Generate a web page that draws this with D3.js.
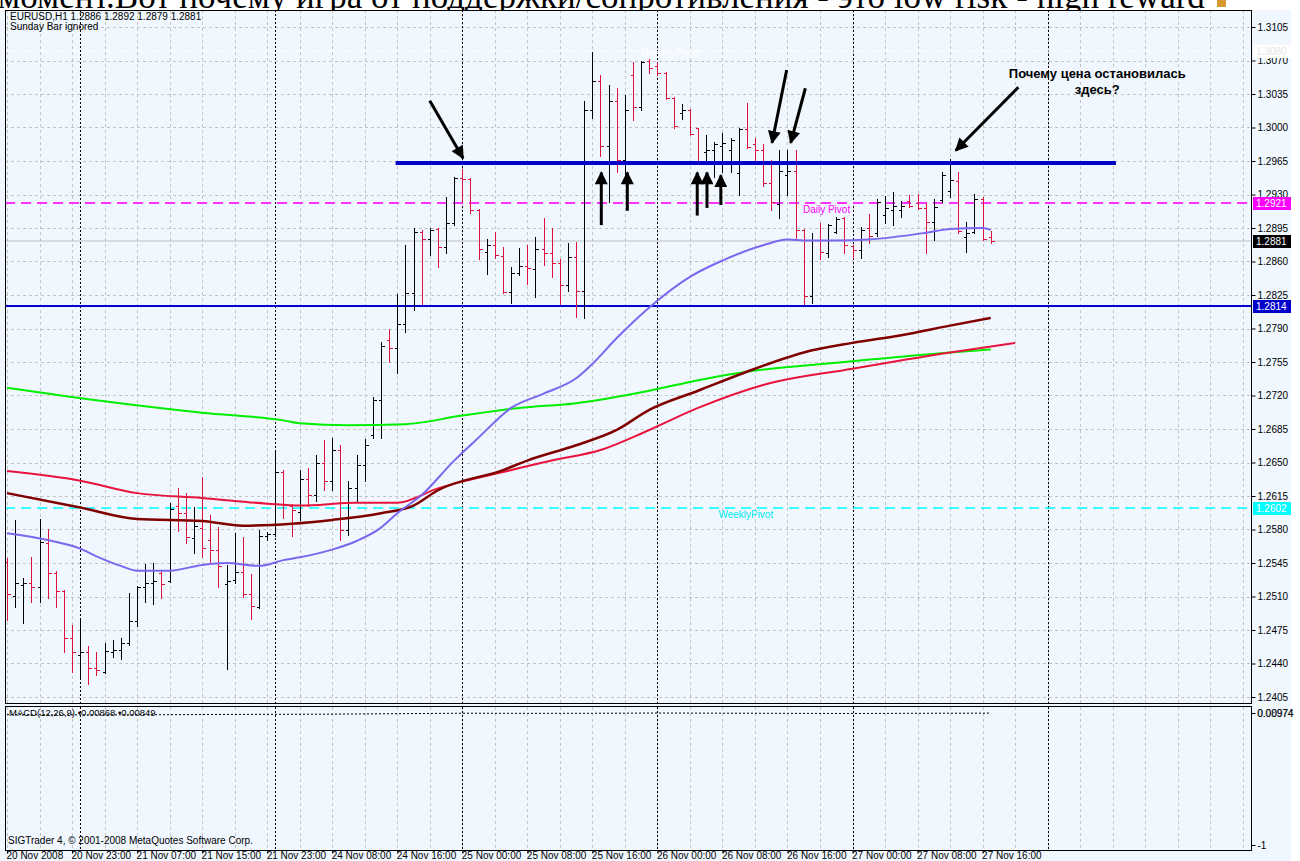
<!DOCTYPE html>
<meta charset="utf-8">
<style>
  body { margin: 0; background: #fff; }
  svg { display: block; font-family: "Liberation Sans", Arial, sans-serif; }
</style>
<svg width="1300" height="861"></svg>
<script src="https://cdn.jsdelivr.net/npm/d3@7/dist/d3.min.js"></script>
<script>
// EURUSD H1 bars (index 0 = first bar at the left edge)
var opens = [1.2546,1.2511,1.2522,1.2524,1.2520,1.2566,1.2535,1.2516,1.2467,1.2449,
  1.2452,1.2435,1.2431,1.2452,1.2454,1.2461,1.2484,1.2520,1.2524,1.2535,
  1.2526,1.2605,1.2597,1.2571,1.2582,1.2569,1.2559,1.2523,1.2527,1.2536,
  1.2513,1.2499,1.2573,1.2575,1.2640,1.2605,1.2598,1.2633,1.2616,1.2650,
  1.2631,1.2663,1.2579,1.2623,1.2647,1.2679,1.2715,1.2778,1.2770,1.2795,
  1.2827,1.2891,1.2884,1.2894,1.2875,1.2900,1.2947,1.2946,1.2914,1.2870,
  1.2877,1.2866,1.2828,1.2848,1.2855,1.2852,1.2873,1.2869,1.2858,1.2835,
  1.2865,1.2829,1.3018,1.3049,1.2981,1.3028,1.2966,1.3055,1.3021,1.3070,
  1.3064,1.3057,1.3031,1.3015,1.3018,1.2999,1.2974,1.2976,1.2981,1.2976,
  1.2952,1.2998,1.2983,1.2976,1.2942,1.2920,1.2950,1.2955,1.2893,1.2824,
  1.2882,1.2869,1.2891,1.2905,1.2876,1.2872,1.2895,1.2890,1.2909,1.2914,
  1.2914,1.2923,1.2921,1.2916,1.2901,1.2924,1.2934,1.2944,1.2886,1.2891,
  1.2925,1.2886];
var highs = [1.2550,1.2590,1.2529,1.2551,1.2591,1.2581,1.2537,1.2517,1.2480,1.2485,
  1.2458,1.2452,1.2461,1.2465,1.2467,1.2514,1.2521,1.2544,1.2545,1.2537,
  1.2608,1.2623,1.2618,1.2603,1.2635,1.2595,1.2583,1.2543,1.2576,1.2572,
  1.2534,1.2579,1.2577,1.2663,1.2642,1.2607,1.2642,1.2644,1.2658,1.2673,
  1.2676,1.2668,1.2631,1.2658,1.2675,1.2718,1.2776,1.2790,1.2826,1.2877,
  1.2895,1.2893,1.2895,1.2895,1.2927,1.2948,1.2957,1.2947,1.2915,1.2883,
  1.2891,1.2875,1.2854,1.2874,1.2877,1.2886,1.2905,1.2895,1.2863,1.2879,
  1.2880,1.3028,1.3079,1.3055,1.3044,1.3041,1.3034,1.3068,1.3070,1.3072,
  1.3068,1.3058,1.3032,1.3025,1.3019,1.3000,1.2992,1.2985,1.2994,1.2989,
  1.3000,1.3026,1.2989,1.2983,1.2966,1.2977,1.2976,1.2977,1.2894,1.2890,
  1.2900,1.2899,1.2907,1.2906,1.2877,1.2896,1.2910,1.2925,1.2928,1.2933,
  1.2923,1.2930,1.2931,1.2921,1.2925,1.2953,1.2967,1.2953,1.2901,1.2931,
  1.2927,1.2892];
var lows = [1.2485,1.2499,1.2482,1.2504,1.2504,1.2508,1.2499,1.2452,1.2431,1.2424,
  1.2419,1.2428,1.2430,1.2447,1.2445,1.2459,1.2479,1.2504,1.2502,1.2508,
  1.2525,1.2578,1.2566,1.2555,1.2551,1.2545,1.2520,1.2434,1.2524,1.2509,
  1.2487,1.2498,1.2569,1.2573,1.2592,1.2573,1.2590,1.2605,1.2610,1.2621,
  1.2621,1.2569,1.2574,1.2610,1.2631,1.2676,1.2676,1.2755,1.2743,1.2786,
  1.2809,1.2816,1.2867,1.2854,1.2869,1.2898,1.2922,1.2911,1.2863,1.2847,
  1.2864,1.2827,1.2817,1.2846,1.2837,1.2823,1.2856,1.2844,1.2816,1.2829,
  1.2802,1.2801,1.3010,1.2970,1.2922,1.2953,1.2950,1.3008,1.3018,1.3057,
  1.3055,1.3030,1.3000,1.3009,1.2992,1.2962,1.2963,1.2948,1.2954,1.2954,
  1.2929,1.2979,1.2963,1.2939,1.2914,1.2905,1.2930,1.2882,1.2816,1.2817,
  1.2863,1.2865,1.2890,1.2869,1.2864,1.2864,1.2879,1.2887,1.2900,1.2898,
  1.2907,1.2917,1.2915,1.2869,1.2882,1.2922,1.2927,1.2890,1.2870,1.2890,
  1.2882,1.2879];
var closes = [1.2513,1.2524,1.2524,1.2520,1.2567,1.2535,1.2516,1.2467,1.2452,1.2452,
  1.2435,1.2433,1.2453,1.2454,1.2461,1.2484,1.2520,1.2524,1.2526,1.2523,
  1.2601,1.2597,1.2572,1.2584,1.2561,1.2559,1.2542,1.2526,1.2536,1.2513,
  1.2500,1.2573,1.2575,1.2640,1.2606,1.2600,1.2633,1.2616,1.2650,1.2631,
  1.2663,1.2579,1.2623,1.2647,1.2668,1.2715,1.2772,1.2770,1.2795,1.2827,
  1.2891,1.2884,1.2893,1.2875,1.2900,1.2947,1.2946,1.2914,1.2873,1.2877,
  1.2867,1.2828,1.2848,1.2855,1.2853,1.2873,1.2869,1.2858,1.2835,1.2865,
  1.2829,1.3018,1.3049,1.2981,1.3028,1.2966,1.3018,1.3021,1.3068,1.3062,
  1.3057,1.3031,1.3002,1.3018,1.2993,1.2964,1.2976,1.2983,1.2984,1.2987,
  1.2998,1.2980,1.2976,1.2942,1.2922,1.2955,1.2955,1.2893,1.2824,1.2882,
  1.2870,1.2898,1.2904,1.2877,1.2872,1.2893,1.2887,1.2922,1.2916,1.2918,
  1.2918,1.2918,1.2916,1.2901,1.2917,1.2950,1.2945,1.2892,1.2890,1.2925,
  1.2884,1.2881];

// moving averages: bar index / value pairs
var maSlateIdx = [0,5,9,11,14,16,20,24,27,31,34,36,40,43,46,48,51,55,58,62,66,70,72,75,79,84,88,93,96,98,102,106,113,116,120,121];
var maSlate = [1.2576,1.2569,1.2560,1.2552,1.2542,1.2537,1.2537,1.2543,1.2545,1.2542,1.2548,1.2551,1.2559,1.2568,1.2582,1.2597,1.2616,1.2652,1.2676,1.2707,1.2722,1.2738,1.2753,1.2780,1.2812,1.2844,1.2861,1.2877,1.2883,1.2882,1.2882,1.2883,1.2890,1.2894,1.2895,1.2893];
var maGreenIdx = [0,11,24,34,36,42,49,56,63,70,79,85,92,103,116,121];
var maGreen = [1.2728,1.2715,1.2702,1.2694,1.2691,1.2689,1.2690,1.2699,1.2707,1.2712,1.2725,1.2736,1.2746,1.2755,1.2765,1.2768];
var maMaroonIdx = [0,9,16,24,29,35,40,46,50,53,61,64,70,75,79,85,92,98,104,110,116,121];
var maMaroon = [1.2618,1.2603,1.2591,1.2589,1.2584,1.2586,1.2590,1.2597,1.2605,1.2621,1.2642,1.2652,1.2668,1.2684,1.2705,1.2725,1.2748,1.2765,1.2775,1.2783,1.2793,1.2801];
var maCrimsonIdx = [0,9,16,24,32,36,43,48,53,61,67,73,79,85,93,104,116,124];
var maCrimson = [1.2641,1.2631,1.2618,1.2613,1.2607,1.2605,1.2608,1.2608,1.2623,1.2640,1.2652,1.2663,1.2684,1.2707,1.2731,1.2748,1.2765,1.2775];

// MACD(12,26,9) main line, sampled
var macdIdx = [0,8,16,24,32,40,48,56,64,72,80,88,96,104,112,121];
var macdVal = [-0.0030,-0.0045,-0.0040,-0.0020,-0.0005,0.0010,0.0045,0.0080,0.0070,0.0075,0.0095,0.0085,0.0070,0.0060,0.0075,0.0087];

var timeIdx = [0,8,16,24,32,40,48,56,64,72,80,88,96,104,112,120];
var timeLabels = ["20 Nov 2008","20 Nov 23:00","21 Nov 07:00","21 Nov 15:00","21 Nov 23:00",
  "24 Nov 08:00","24 Nov 16:00","25 Nov 00:00","25 Nov 08:00","25 Nov 16:00",
  "26 Nov 00:00","26 Nov 08:00","26 Nov 16:00","27 Nov 00:00","27 Nov 08:00","27 Nov 16:00"];
var daySeps = [9,33,56,80,104,128];
var priceTicks = [1.3105,1.3070,1.3035,1.3000,1.2965,1.2930,1.2895,1.2860,1.2825,1.2790,
  1.2755,1.2720,1.2685,1.2650,1.2615,1.2580,1.2545,1.2510,1.2475,1.2440,1.2405];

// horizontal levels
var levelNames = ["MonthlyPivot","Daily Pivot","Bid","Support","WeeklyPivot"];
var levelValues = [1.3080,1.2921,1.2881,1.2814,1.2602];
var resistance = 1.2963;
var resistanceFrom = 47.8, resistanceTo = 136.4;

// hand-drawn arrows: [fromIdx, fromPrice, toIdx, toPrice]
var arrows = [
  [52.0,1.3028,56.1,1.2968],
  [73.1,1.2898,73.1,1.2953],
  [76.3,1.2913,76.3,1.2953],
  [84.9,1.2908,84.9,1.2953],
  [86.1,1.2916,86.1,1.2953],
  [87.8,1.2919,87.8,1.2950],
  [95.9,1.3060,94.1,1.2984],
  [98.2,1.3041,96.4,1.2984],
  [124.4,1.3042,116.7,1.2976]
];

var svg = d3.select("svg");
var L = 5, R = 1251, T = 10, PB = 703, MT = 707, MB = 850;

var x = d3.scaleLinear().domain([0, 100]).range([7, 820]);
var y = d3.scaleLinear().domain([1.2405, 1.3105]).range([697, 27]);
var ym = d3.scaleLinear().domain([-1, 0.00974]).range([845, 713]);

// cropped forum text above the chart
svg.append("defs").append("clipPath").attr("id", "topclip")
  .append("rect").attr("x", 0).attr("y", 0).attr("width", 1300).attr("height", T);
svg.append("g").attr("clip-path", "url(#topclip)").append("text").attr("x", -2).attr("y", 8)
  .attr("font-family", "'Liberation Serif', 'Times New Roman', serif").attr("font-size", 35)
  .text("момент.Вот почему игра от поддержки/сопротивления - это low risk - high reward");
svg.append("rect").attr("x", 1217).attr("y", 0).attr("width", 9).attr("height", 7).attr("fill", "#d89a30");

// background
svg.append("rect").attr("x", 0).attr("y", T).attr("width", 1291).attr("height", 861 - T).attr("fill", "#f0f7ff");

// grid
var grid = svg.append("g").attr("stroke", "#c4c4c4").attr("stroke-dasharray", "3,3").attr("shape-rendering", "crispEdges");
grid.selectAll(".h").data(priceTicks).enter().append("line")
  .attr("x1", L).attr("x2", R).attr("y1", function(d){ return Math.round(y(d)) + 0.5; }).attr("y2", function(d){ return Math.round(y(d)) + 0.5; });
var gridIdx = d3.range(0, 154, 4);
[[T, PB], [MT, MB]].forEach(function(p){
  grid.selectAll(null).data(gridIdx).enter().append("line")
    .attr("x1", function(d){ return Math.round(x(d)) + 0.5; }).attr("x2", function(d){ return Math.round(x(d)) + 0.5; })
    .attr("y1", p[0]).attr("y2", p[1]);
});
var seps = svg.append("g").attr("stroke", "#000").attr("stroke-dasharray", "2,2").attr("shape-rendering", "crispEdges");
[[T, PB], [MT, MB]].forEach(function(p){
  seps.selectAll(null).data(daySeps).enter().append("line")
    .attr("x1", function(d){ return Math.round(x(d)) + 0.5; }).attr("x2", function(d){ return Math.round(x(d)) + 0.5; })
    .attr("y1", p[0]).attr("y2", p[1]);
});

// level lines
var lvlStroke = ["#ffffff","#ff33ff","#c0c0c0","#0000cc","#00ffff"];
var lvlWidth = [1, 2, 1, 2, 1.5];
var lvlDash = ["10,6","10,6",null,null,"10,6"];
svg.append("g").selectAll("line").data(levelValues).enter().append("line")
  .attr("x1", L).attr("x2", R)
  .attr("y1", function(d){ return Math.round(y(d)); }).attr("y2", function(d){ return Math.round(y(d)); })
  .attr("stroke", function(d, i){ return lvlStroke[i]; })
  .attr("stroke-width", function(d, i){ return lvlWidth[i]; })
  .attr("stroke-dasharray", function(d, i){ return lvlDash[i]; });
svg.append("text").attr("x", x(77.9)).attr("y", y(levelValues[0]) + 6).attr("font-size", 10).attr("fill", "#fff").text("MonthlyPivot");
svg.append("text").attr("x", x(97.9)).attr("y", y(levelValues[1]) + 10).attr("font-size", 10).attr("fill", "#ff00ff").text("Daily Pivot");
svg.append("text").attr("x", x(87.5)).attr("y", y(levelValues[4]) + 10).attr("font-size", 10).attr("fill", "#00e8f0").text("WeeklyPivot");

// bars
var idx = d3.range(opens.length);
var bars = svg.append("g").attr("shape-rendering", "crispEdges").selectAll("g").data(idx).enter().append("g")
  .attr("stroke", function(i){ return closes[i] >= opens[i] ? "#000" : "#dc143c"; })
  .attr("transform", function(i){ return "translate(" + (Math.round(x(i)) + 0.5) + ",0)"; });
bars.append("line").attr("y1", function(i){ return y(highs[i]); }).attr("y2", function(i){ return y(lows[i]) + 1; });
bars.append("line").attr("x1", -3).attr("x2", 0)
  .attr("y1", function(i){ return Math.round(y(opens[i])) + 0.5; }).attr("y2", function(i){ return Math.round(y(opens[i])) + 0.5; });
bars.append("line").attr("x1", 0).attr("x2", 3)
  .attr("y1", function(i){ return Math.round(y(closes[i])) + 0.5; }).attr("y2", function(i){ return Math.round(y(closes[i])) + 0.5; });

// moving averages
function ma(ix, vals, color, w) {
  var line = d3.line().x(function(d){ return x(ix[d]); }).y(function(d){ return y(vals[d]); }).curve(d3.curveMonotoneX);
  svg.append("path").attr("d", line(d3.range(ix.length))).attr("fill", "none").attr("stroke", color).attr("stroke-width", w);
}
ma(maGreenIdx, maGreen, "#00ee00", 2);
ma(maCrimsonIdx, maCrimson, "#e8143c", 2);
ma(maMaroonIdx, maMaroon, "#800000", 2.5);
ma(maSlateIdx, maSlate, "#7b68ee", 2);

// resistance trend line
svg.append("line").attr("x1", x(resistanceFrom)).attr("x2", x(resistanceTo))
  .attr("y1", y(resistance)).attr("y2", y(resistance)).attr("stroke", "#0000c8").attr("stroke-width", 4);

// arrows
svg.append("defs").append("marker").attr("id", "ah").attr("viewBox", "0 0 10 10")
  .attr("refX", 9).attr("refY", 5).attr("markerWidth", 14).attr("markerHeight", 13)
  .attr("markerUnits", "userSpaceOnUse").attr("orient", "auto")
  .append("path").attr("d", "M0,0L10,5L0,10z").attr("fill", "#000");
svg.append("g").selectAll("line").data(arrows).enter().append("line")
  .attr("x1", function(a){ return x(a[0]); }).attr("y1", function(a){ return y(a[1]); })
  .attr("x2", function(a){ return x(a[2]); }).attr("y2", function(a){ return y(a[3]); })
  .attr("stroke", "#000").attr("stroke-width", 3).attr("marker-end", "url(#ah)");
svg.append("text").attr("x", x(134.1)).attr("y", y(1.3052)).attr("text-anchor", "middle")
  .attr("font-size", 13).attr("font-weight", "bold").text("Почему цена остановилась");
svg.append("text").attr("x", x(134.1)).attr("y", y(1.3035)).attr("text-anchor", "middle")
  .attr("font-size", 13).attr("font-weight", "bold").text("здесь?");

// MACD panel
svg.append("path").attr("d", d3.line().x(function(d){ return x(macdIdx[d]); }).y(function(d){ return ym(macdVal[d]); })(d3.range(macdIdx.length)))
  .attr("fill", "none").attr("stroke", "#000").attr("stroke-dasharray", "2,2");
svg.append("text").attr("x", 9).attr("y", 716).attr("font-size", 9.5)
  .text("MACD(12,26,9) \u20220.00868 \u20220.00849");
svg.append("text").attr("x", 8).attr("y", 844).attr("font-size", 10).text("SIGTrader 4, \u00a9 2001-2008 MetaQuotes Software Corp.");

// header
svg.append("text").attr("x", 10).attr("y", 20).attr("font-size", 10)
  .text("EURUSD,H1  " + [opens[121], highs[121], lows[121], closes[121]].map(d3.format(".4f")).join(" "));
svg.append("text").attr("x", 10).attr("y", 30).attr("font-size", 10).text("Sunday Bar ignored");

// frames
var fr = svg.append("g").attr("fill", "none").attr("stroke", "#000").attr("shape-rendering", "crispEdges");
fr.append("rect").attr("x", L + 0.5).attr("y", T + 0.5).attr("width", R - L).attr("height", PB - T);
fr.append("rect").attr("x", L + 0.5).attr("y", MT - 0.5).attr("width", R - L).attr("height", MB - MT + 0.5);

// price axis
var yAxis = d3.axisRight(y).tickValues(priceTicks).tickFormat(d3.format(".4f")).tickSize(4).tickPadding(2);
svg.append("g").attr("transform", "translate(" + (R + 0.5) + ",0)").call(yAxis)
  .attr("font-family", "'Liberation Sans', Arial, sans-serif").attr("font-size", 10)
  .call(function(g){ g.select(".domain").remove(); });

// level price boxes
var boxFill = ["#ffffff","#ff00ff","#000000","#0000cc","#00ffff"];
var boxText = ["#e6e6e6","#ffffff","#ffffff","#ffffff","#ffffff"];
var boxes = svg.append("g").selectAll("g").data(levelValues).enter().append("g")
  .attr("transform", function(d){ return "translate(1253," + Math.round(y(d)) + ")"; });
boxes.append("rect").attr("x", 0).attr("y", -6).attr("width", 38).attr("height", 13).attr("fill", function(d, i){ return boxFill[i]; });
boxes.append("text").attr("x", 3).attr("y", 4).attr("font-size", 10).attr("fill", function(d, i){ return boxText[i]; })
  .text(function(d){ return d3.format(".4f")(d); });

// MACD axis
var mAxis = d3.axisRight(ym).tickValues([0.00974, -1]).tickSize(4).tickPadding(2)
  .tickFormat(function(d){ return d === -1 ? "-1" : d3.format(".5f")(d); });
svg.append("g").attr("transform", "translate(" + (R + 0.5) + ",0)").call(mAxis)
  .attr("font-family", "'Liberation Sans', Arial, sans-serif").attr("font-size", 10)
  .call(function(g){ g.select(".domain").remove(); });
svg.append("text").attr("x", R + 6).attr("y", ym(0.00974) + 3.5).attr("font-size", 10).attr("fill-opacity", 0.6).text("0.08974");

// time axis
var xAxis = d3.axisBottom(x).tickValues(timeIdx).tickSize(3)
  .tickFormat(function(d, i){ return timeLabels[i]; });
svg.append("g").attr("transform", "translate(0," + (MB + 0.5) + ")").call(xAxis)
  .attr("font-family", "'Liberation Sans', Arial, sans-serif").attr("font-size", 10)
  .call(function(g){ g.select(".domain").remove(); })
  .selectAll("text").attr("text-anchor", "start").attr("x", -1).attr("y", 1.5);
</script>
